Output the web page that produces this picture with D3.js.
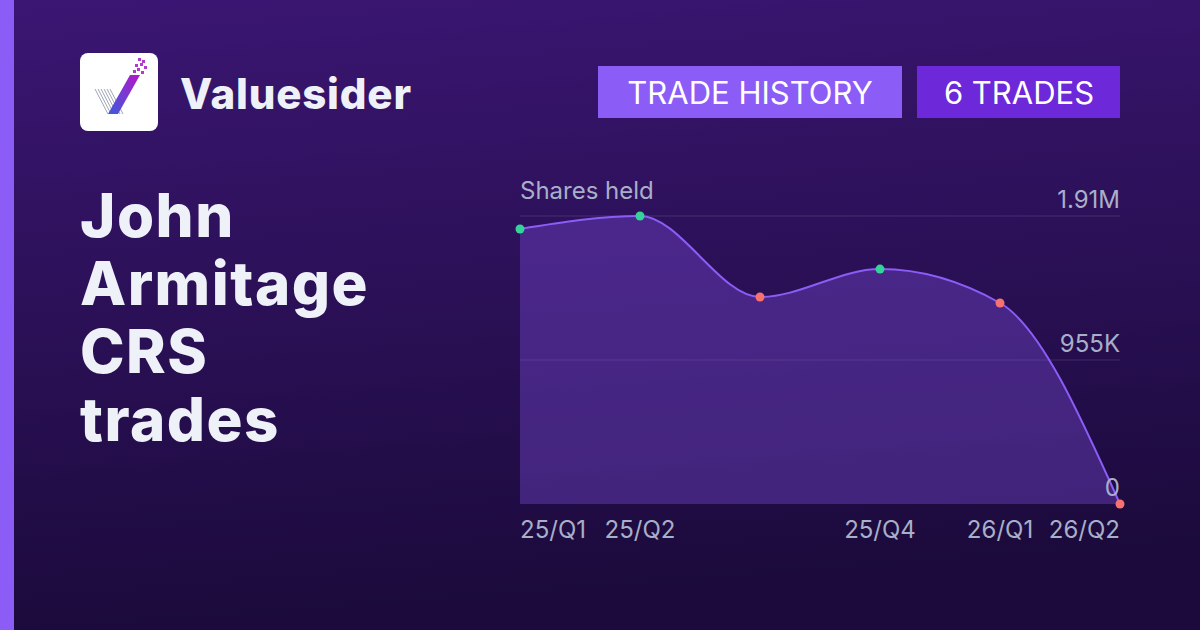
<!DOCTYPE html>
<html><head><meta charset="utf-8">
<script src="https://cdn.jsdelivr.net/npm/d3@7"></script>
<style>body{margin:0}svg{display:block}</style>
</head><body>
<svg width="1200" height="630"></svg>
<script>
var quarters = ["25/Q1", "25/Q2", "25/Q3", "25/Q4", "26/Q1", "26/Q2"];
var tickLabels = ["25/Q1", "25/Q2", "", "25/Q4", "26/Q1", "26/Q2"];
var shares = [1824000, 1910000, 1373000, 1558000, 1333000, 0];
var tradeType = ["buy", "buy", "sell", "buy", "sell", "sell"];
var yTicks = [0, 955000, 1910000];
var yTickLabels = ["0", "955K", "1.91M"];

var svg = d3.select("svg");
var font = "Inter, 'Noto Sans', sans-serif";

var defs = svg.append("defs");
var bg = defs.append("linearGradient").attr("id", "bg").attr("x1", 0).attr("y1", 0).attr("x2", 0.15).attr("y2", 1);
bg.append("stop").attr("offset", "0%").attr("stop-color", "#3b1673");
bg.append("stop").attr("offset", "100%").attr("stop-color", "#1b0a3b");
var lg = defs.append("linearGradient").attr("id", "logo").attr("x1", 0).attr("y1", 1).attr("x2", 1).attr("y2", 0);
lg.append("stop").attr("offset", "0%").attr("stop-color", "#3b5bdb");
lg.append("stop").attr("offset", "100%").attr("stop-color", "#b517c9");

svg.append("rect").attr("width", 1200).attr("height", 630).attr("fill", "url(#bg)");
svg.append("rect").attr("width", 14).attr("height", 630).attr("fill", "#8b5cf6");

// logo
svg.append("rect").attr("x", 80).attr("y", 53).attr("width", 78).attr("height", 78).attr("rx", 8).attr("fill", "#fff");
var lgG = svg.append("g");
for (var i = 0; i < 6; i++) {
  lgG.append("line").attr("x1", 95 + i * 3).attr("y1", 89).attr("x2", 108 + i * 3).attr("y2", 114)
    .attr("stroke", "#a0a4b8").attr("stroke-width", 1);
}
lgG.append("path").attr("d", "M108,114 L130,75 L140,75 L118,114 Z").attr("fill", "url(#logo)");
[[133,70],[137,68],[141,71],[135,64],[140,63],[144,66],[138,58],[142,60]].forEach(function (p) {
  lgG.append("rect").attr("x", p[0]).attr("y", p[1]).attr("width", 3).attr("height", 3).attr("fill", "#b03ad0");
});
svg.append("text").attr("x", 180).attr("y", 109).text("Valuesider")
  .attr("font-family", font).attr("font-weight", 800).attr("font-size", 42).attr("letter-spacing", 0.8).attr("fill", "#eef1f7");

// badges
svg.append("rect").attr("x", 598).attr("y", 66).attr("width", 304).attr("height", 52).attr("fill", "#8b5cf6");
svg.append("text").attr("x", 750).attr("y", 104).attr("text-anchor", "middle").text("TRADE HISTORY")
  .attr("font-family", font).attr("font-size", 31).attr("fill", "#fff");
svg.append("rect").attr("x", 917).attr("y", 66).attr("width", 203).attr("height", 52).attr("fill", "#6d28d9");
svg.append("text").attr("x", 1019).attr("y", 104).attr("text-anchor", "middle").text("6 TRADES")
  .attr("font-family", font).attr("font-size", 31).attr("fill", "#fff");

// title
["John", "Armitage", "CRS", "trades"].forEach(function (t, i) {
  svg.append("text").attr("x", 80).attr("y", 237 + i * 68).text(t)
    .attr("font-family", font).attr("font-weight", 800).attr("font-size", 60).attr("letter-spacing", 1.5).attr("fill", "#eef1f7");
});

// chart
var x = d3.scalePoint().domain(quarters).range([520, 1120]);
var y = d3.scaleLinear().domain([0, 1910000]).range([504, 216]);

var g = svg.append("g");
yTicks.forEach(function (t, i) {
  if (t > 0) g.append("line").attr("x1", 520).attr("x2", 1120).attr("y1", y(t)).attr("y2", y(t))
    .attr("stroke", "#ffffff").attr("stroke-opacity", 0.12);
});

var area = d3.area().x(function (d, i) { return x(quarters[i]); }).y0(y(0)).y1(function (d) { return y(d); }).curve(d3.curveMonotoneX);
var line = d3.line().x(function (d, i) { return x(quarters[i]); }).y(function (d) { return y(d); }).curve(d3.curveMonotoneX);
g.append("path").attr("d", area(shares)).attr("fill", "#7c4ddb").attr("fill-opacity", 0.38);
g.append("path").attr("d", line(shares)).attr("fill", "none").attr("stroke", "#8b5cf6").attr("stroke-width", 2);

yTicks.forEach(function (t, i) {
  g.append("text").attr("x", 1120).attr("y", y(t) - 8).attr("text-anchor", "end").text(yTickLabels[i])
    .attr("font-family", font).attr("font-size", 24).attr("fill", "#a8afc8");
});
g.append("text").attr("x", 520).attr("y", 199).text("Shares held")
  .attr("font-family", font).attr("font-size", 24).attr("fill", "#a8afc8");

g.selectAll("circle").data(shares).enter().append("circle")
  .attr("cx", function (d, i) { return x(quarters[i]); })
  .attr("cy", function (d) { return y(d); })
  .attr("r", 4.5)
  .attr("fill", function (d, i) { return tradeType[i] === "buy" ? "#34d399" : "#f87171"; });

tickLabels.forEach(function (t, i) {
  var anchor = i === 0 ? "start" : (i === tickLabels.length - 1 ? "end" : "middle");
  g.append("text").attr("x", x(quarters[i])).attr("y", 538).attr("text-anchor", anchor).text(t)
    .attr("font-family", font).attr("font-size", 24).attr("fill", "#a8afc8");
});
</script>
</body></html>
